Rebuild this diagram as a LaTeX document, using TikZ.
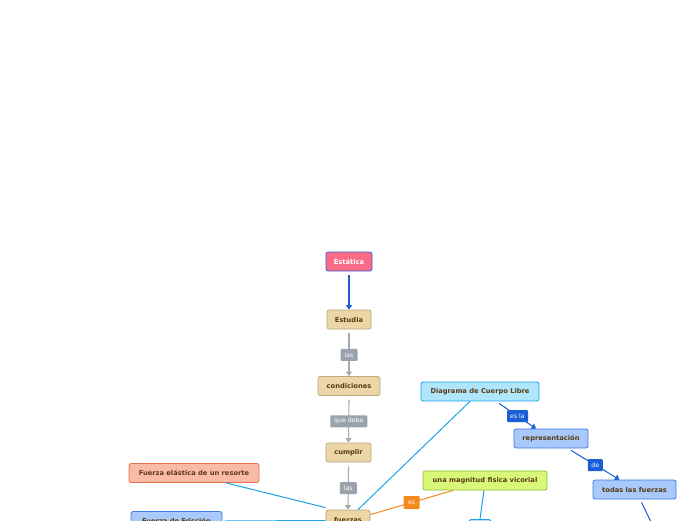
\documentclass[tikz,border=0pt]{standalone}
\usepackage{fontspec}
\setmainfont{DejaVu Sans}
\usetikzlibrary{arrows.meta}
\definecolor{txtbrown}{HTML}{5A3A14}
\definecolor{pinkfill}{HTML}{FA6B86}
\definecolor{pinkdraw}{HTML}{3D5FD8}
\definecolor{tanfill}{HTML}{EDD6A6}
\definecolor{tandraw}{HTML}{B9A884}
\definecolor{grayline}{HTML}{A3AAB3}
\definecolor{graylbl}{HTML}{9AA3AD}
\definecolor{salfill}{HTML}{FABBA6}
\definecolor{saldraw}{HTML}{E8704F}
\definecolor{bluefill}{HTML}{A9C9FA}
\definecolor{bluedraw}{HTML}{3B7BE2}
\definecolor{cyanfill}{HTML}{B0E6FB}
\definecolor{cyandraw}{HTML}{1AA3E8}
\definecolor{limefill}{HTML}{D9F87A}
\definecolor{limedraw}{HTML}{8DC033}
\definecolor{darkblue}{HTML}{1A5FD6}
\definecolor{orangec}{HTML}{F58A1F}
\tikzset{
  box/.style={draw, rounded corners=2.2pt, line width=0.8pt, font=\fontsize{6.7}{8}\selectfont\bfseries, text=txtbrown, inner sep=0pt, minimum height=19pt},
  tanbox/.style={box, fill=tanfill, draw=tandraw},
  lbl/.style={rounded corners=1pt, inner sep=0pt, minimum height=12pt, font=\fontsize{6.2}{7}\selectfont, text=white},
  graylbl/.style={lbl, fill=graylbl},
  bluelbl/.style={lbl, fill=darkblue},
  orlbl/.style={lbl, fill=orangec},
  tip/.style={-{Triangle[length=4.5pt,width=6pt]}},
}
\begin{document}
\begin{tikzpicture}[x=1pt,y=-1pt]
\useasboundingbox (0,0) rectangle (696,520);
\clip (0,0) rectangle (696,520);
\fill[white] (0,0) rectangle (696,520);
% nodes
\node[box, fill=pinkfill, draw=pinkdraw, text=white, minimum width=46pt] (est) at (349,261.5) {Estática};
\node[tanbox, minimum width=44pt] (estu) at (349,319.5) {Estudia};
\node[tanbox, minimum width=62pt] (cond) at (349,386) {condiciones};
\node[tanbox, minimum width=45pt] (cump) at (348.5,452.5) {cumplir};
\node[tanbox, minimum width=44pt] (fuer) at (348,519.5) {fuerzas};
\node[box, fill=salfill, draw=saldraw, minimum width=130pt] (elas) at (194,473) {Fuerza elástica de un resorte};
\node[box, fill=bluefill, draw=bluedraw, minimum width=91pt] (fric) at (176.5,521) {Fuerza de Fricción};
\node[box, fill=cyanfill, draw=cyandraw, minimum width=118pt] (dcl) at (480,391.5) {Diagrama de Cuerpo Libre};
\node[box, fill=bluefill, draw=bluedraw, minimum width=74pt] (rep) at (551,438.5) {representación};
\node[box, fill=bluefill, draw=bluedraw, minimum width=83pt] (todas) at (634.5,489.5) {todas las fuerzas};
\node[box, fill=limefill, draw=limedraw, minimum width=124pt] (mag) at (485,480.5) {una magnitud fisica vicorial};
\node[box, fill=cyanfill, draw=cyandraw, minimum width=22pt, minimum height=14pt] (low) at (480,526.5) {};
\coordinate (off) at (655,530);
% connectors
\draw[darkblue, line width=1.1pt, tip] (est.south) ++(0,4) -- (estu.north);
\draw[grayline, line width=1.1pt, tip] ([yshift=-4pt]estu.south) -- node[graylbl, minimum width=17pt]{las} (cond.north);
\draw[grayline, line width=1.1pt, tip] ([yshift=-4pt]cond.south) -- node[graylbl, minimum width=37pt]{que debe} (cump.north);
\draw[grayline, line width=1.1pt, tip] ([yshift=-4pt]cump.south) -- node[graylbl, minimum width=17pt]{las} (fuer.north);
\draw[cyandraw, line width=1pt] ([xshift=32pt]elas.south) -- ([yshift=2pt]fuer.north west);
\draw[cyandraw, line width=1pt] ([xshift=2pt]fric.east) -- ([yshift=-1pt]fuer.west);
\draw[cyandraw, line width=1pt] ([xshift=-10pt]dcl.south) -- ([xshift=10pt]fuer.north);
\draw[orangec, line width=1pt] ([yshift=-5pt]fuer.north east) -- node[orlbl, minimum width=16pt, minimum height=13pt]{es} ([xshift=-32pt]mag.south);
\draw[cyandraw, line width=1pt] ([xshift=-1pt]mag.south) -- (low.north);
\draw[darkblue, line width=1pt, tip] ([xshift=19pt,yshift=-2pt]dcl.south) -- node[bluelbl, minimum width=21pt]{es la} ([xshift=-15pt]rep.north);
\draw[darkblue, line width=1pt, tip] ([xshift=20pt,yshift=-2pt]rep.south) -- node[bluelbl, minimum width=15pt]{de} ([xshift=-15pt]todas.north);
\draw[darkblue, line width=1pt] ([xshift=7pt,yshift=-3pt]todas.south) -- (off);
\end{tikzpicture}
\end{document}
